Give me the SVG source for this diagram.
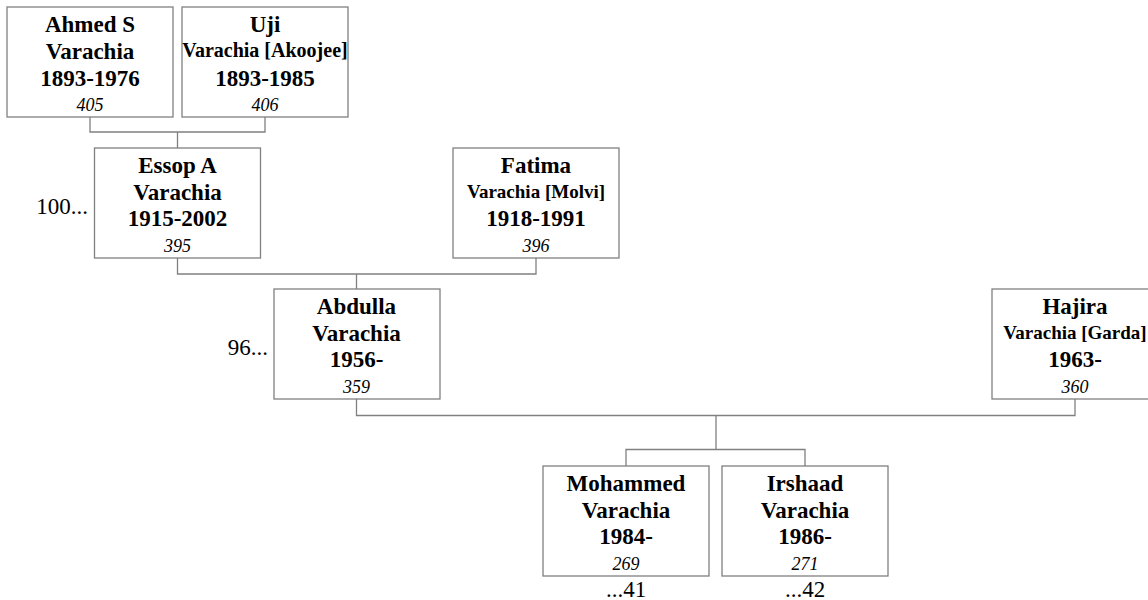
<svg xmlns="http://www.w3.org/2000/svg" width="1148" height="600" viewBox="0 0 1148 600">
<style>
.box{fill:#fff;stroke:#808080;stroke-width:1.3}
.con{fill:none;stroke:#808080;stroke-width:1.3}
text{font-family:"Liberation Serif","Times New Roman",serif;fill:#000;text-anchor:middle}
.n{font-weight:bold;font-size:23px}
.s{font-weight:bold;font-size:19px}
.i{font-style:italic;font-size:18px}
.r{font-size:23px}
.e{text-anchor:end}
</style>
<rect width="1148" height="600" fill="#fff"/>
<g id="connectors">
<path class="con" d="M90 117V132H265V117M177.5 132V148"/>
<path class="con" d="M177.5 258V274H536V258M356.5 274V289"/>
<path class="con" d="M356.5 399V415.5H1075V399M716 415.5V449.5M626 466V449.5H805V466"/>
</g>
<g id="ahmed">
<rect class="box" x="7" y="7" width="166" height="110"/>
<text class="n" x="90" y="32">Ahmed S</text>
<text class="n" x="90" y="59">Varachia</text>
<text class="n" x="90" y="86">1893-1976</text>
<text class="i" x="90" y="111">405</text>
</g>
<g id="uji">
<rect class="box" x="182" y="7" width="166" height="110"/>
<text class="n" x="265" y="32">Uji</text>
<text class="s" x="265" y="57" style="font-size:20px">Varachia [Akoojee]</text>
<text class="n" x="265" y="86">1893-1985</text>
<text class="i" x="265" y="111">406</text>
</g>
<g id="essop">
<rect class="box" x="94.5" y="148" width="166" height="110"/>
<text class="n" x="177.5" y="173">Essop A</text>
<text class="n" x="177.5" y="200">Varachia</text>
<text class="n" x="177.5" y="226">1915-2002</text>
<text class="i" x="177.5" y="252">395</text>
<text class="r e" x="88" y="214">100...</text>
</g>
<g id="fatima">
<rect class="box" x="453" y="148" width="166" height="110"/>
<text class="n" x="536" y="173">Fatima</text>
<text class="s" x="536" y="198">Varachia [Molvi]</text>
<text class="n" x="536" y="226">1918-1991</text>
<text class="i" x="536" y="252">396</text>
</g>
<g id="abdulla">
<rect class="box" x="274" y="289" width="166" height="110"/>
<text class="n" x="356.5" y="314">Abdulla</text>
<text class="n" x="356.5" y="341">Varachia</text>
<text class="n" x="356.5" y="367">1956-</text>
<text class="i" x="356.5" y="393">359</text>
<text class="r e" x="268" y="355">96...</text>
</g>
<g id="hajira">
<rect class="box" x="992" y="289" width="166" height="110"/>
<text class="n" x="1075" y="314">Hajira</text>
<text class="s" x="1075" y="339">Varachia [Garda]</text>
<text class="n" x="1075" y="367">1963-</text>
<text class="i" x="1075" y="393">360</text>
</g>
<g id="mohammed">
<rect class="box" x="543" y="466" width="166" height="110"/>
<text class="n" x="626" y="491">Mohammed</text>
<text class="n" x="626" y="518">Varachia</text>
<text class="n" x="626" y="544">1984-</text>
<text class="i" x="626" y="570">269</text>
<text class="r" x="626" y="597">...41</text>
</g>
<g id="irshaad">
<rect class="box" x="722" y="466" width="166" height="110"/>
<text class="n" x="805" y="491">Irshaad</text>
<text class="n" x="805" y="518">Varachia</text>
<text class="n" x="805" y="544">1986-</text>
<text class="i" x="805" y="570">271</text>
<text class="r" x="805" y="597">...42</text>
</g>
</svg>
